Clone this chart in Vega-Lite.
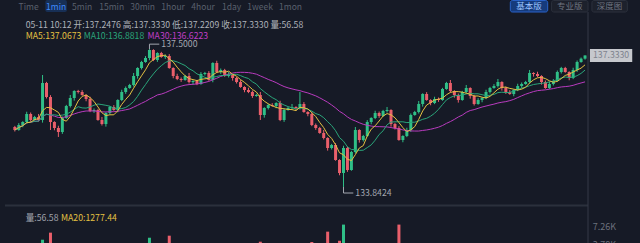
{
"$schema": "https://vega.github.io/schema/vega-lite/v6.json",
"width": 592, "height": 243,
"autosize": {"type": "none"},
"padding": {"left": 0, "top": 0, "right": 48, "bottom": 0},
"background": "#161a26",
"config": {"view": {"stroke": null}, "axisX": {"disable": true}, "text": {"font": "Noto Sans CJK SC", "baseline": "middle", "fontSize": 8.7}},
"datasets": {"k": [
{"i":0,"o":135.4340,"h":135.4640,"l":135.3147,"c":135.3547,"v":1320},
{"i":1,"o":135.3547,"h":135.5374,"l":135.3347,"c":135.4874,"v":860},
{"i":2,"o":135.4874,"h":135.5870,"l":135.4274,"c":135.5670,"v":1540},
{"i":3,"o":135.5670,"h":135.8393,"l":135.5370,"c":135.7793,"v":2210},
{"i":4,"o":135.7793,"h":135.8193,"l":135.5701,"c":135.6201,"v":980},
{"i":5,"o":135.6201,"h":135.7297,"l":135.6001,"c":135.6997,"v":1150},
{"i":6,"o":135.6997,"h":135.7797,"l":135.5801,"c":135.6201,"v":760},
{"i":7,"o":135.6201,"h":136.8140,"l":135.5501,"c":136.6017,"v":4830},
{"i":8,"o":136.6017,"h":136.6317,"l":136.1903,"c":136.2303,"v":2650},
{"i":9,"o":136.2303,"h":136.2803,"l":135.3547,"c":135.5670,"v":6180},
{"i":10,"o":135.5670,"h":135.5870,"l":135.3478,"c":135.4078,"v":1890},
{"i":11,"o":135.4078,"h":135.4678,"l":135.1700,"c":135.3017,"v":2340},
{"i":12,"o":135.3017,"h":135.7131,"l":135.2517,"c":135.6731,"v":1760},
{"i":13,"o":135.6731,"h":136.0215,"l":135.6531,"c":135.9915,"v":1420},
{"i":14,"o":135.9915,"h":136.2838,"l":135.9515,"c":136.2038,"v":1980},
{"i":15,"o":136.2038,"h":136.4095,"l":136.1338,"c":136.3895,"v":1230},
{"i":16,"o":136.3895,"h":136.4195,"l":136.3230,"c":136.3630,"v":640},
{"i":17,"o":136.3630,"h":136.4130,"l":136.2634,"c":136.2834,"v":890},
{"i":18,"o":136.2834,"h":136.3034,"l":136.1172,"c":136.1772,"v":1120},
{"i":19,"o":136.1772,"h":136.2372,"l":135.8288,"c":135.8588,"v":2050},
{"i":20,"o":135.8588,"h":135.9254,"l":135.8088,"c":135.8854,"v":720},
{"i":21,"o":135.8854,"h":135.9154,"l":135.6001,"c":135.6201,"v":1680},
{"i":22,"o":135.6201,"h":135.7001,"l":135.4739,"c":135.5139,"v":1340},
{"i":23,"o":135.5139,"h":135.8258,"l":135.4439,"c":135.8058,"v":1570},
{"i":24,"o":135.8058,"h":135.9950,"l":135.7658,"c":135.9650,"v":1080},
{"i":25,"o":135.9650,"h":136.0150,"l":135.8654,"c":135.8854,"v":690},
{"i":26,"o":135.8854,"h":136.1707,"l":135.8254,"c":136.1507,"v":1460},
{"i":27,"o":136.1507,"h":136.4230,"l":136.1207,"c":136.3630,"v":1830},
{"i":28,"o":136.3630,"h":136.5091,"l":136.3130,"c":136.4691,"v":1010},
{"i":29,"o":136.4691,"h":136.5787,"l":136.4491,"c":136.5487,"v":1250},
{"i":30,"o":136.5487,"h":136.8675,"l":136.5087,"c":136.7875,"v":2380},
{"i":31,"o":136.7875,"h":137.0197,"l":136.7175,"c":136.9997,"v":2760},
{"i":32,"o":136.9997,"h":137.1889,"l":136.9597,"c":137.1589,"v":1940},
{"i":33,"o":137.1589,"h":137.3150,"l":137.1389,"c":137.2650,"v":2210},
{"i":34,"o":137.2650,"h":137.5000,"l":137.2050,"c":137.4773,"v":5210},
{"i":35,"o":137.4773,"h":137.4973,"l":137.1820,"c":137.2120,"v":3120},
{"i":36,"o":137.2120,"h":137.4177,"l":137.1620,"c":137.3977,"v":2480},
{"i":37,"o":137.3977,"h":137.4277,"l":137.2716,"c":137.2916,"v":1350},
{"i":38,"o":137.2916,"h":137.3581,"l":137.2416,"c":137.3181,"v":980},
{"i":39,"o":137.3181,"h":137.3681,"l":136.9797,"c":136.9997,"v":5600},
{"i":40,"o":136.9997,"h":137.0197,"l":136.7275,"c":136.7875,"v":2890},
{"i":41,"o":136.7875,"h":136.8475,"l":136.6779,"c":136.7079,"v":1460},
{"i":42,"o":136.7079,"h":136.7479,"l":136.6313,"c":136.6813,"v":870},
{"i":43,"o":136.6813,"h":136.8175,"l":136.6613,"c":136.7875,"v":1030},
{"i":44,"o":136.7875,"h":136.8675,"l":136.5883,"c":136.6283,"v":1690},
{"i":45,"o":136.6283,"h":136.6748,"l":136.5583,"c":136.6548,"v":740},
{"i":46,"o":136.6548,"h":136.6848,"l":136.5452,"c":136.5752,"v":1120},
{"i":47,"o":136.5752,"h":136.8905,"l":136.5552,"c":136.8405,"v":2050},
{"i":48,"o":136.8405,"h":136.8971,"l":136.8005,"c":136.8671,"v":930},
{"i":49,"o":136.8671,"h":136.9171,"l":136.6613,"c":136.6813,"v":1480},
{"i":50,"o":136.6813,"h":137.1524,"l":136.6213,"c":137.1324,"v":2840},
{"i":51,"o":137.1324,"h":137.1924,"l":136.8636,"c":136.8936,"v":1920},
{"i":52,"o":136.8936,"h":136.9867,"l":136.8436,"c":136.9467,"v":860},
{"i":53,"o":136.9467,"h":136.9767,"l":136.7675,"c":136.7875,"v":1370},
{"i":54,"o":136.7875,"h":136.8940,"l":136.7475,"c":136.8140,"v":690},
{"i":55,"o":136.8140,"h":136.8340,"l":136.6644,"c":136.7344,"v":1010},
{"i":56,"o":136.7344,"h":136.7644,"l":136.5883,"c":136.6283,"v":1260},
{"i":57,"o":136.6283,"h":136.6783,"l":136.4756,"c":136.4956,"v":1580},
{"i":58,"o":136.4956,"h":136.5156,"l":136.3560,"c":136.4160,"v":1140},
{"i":59,"o":136.4160,"h":136.4760,"l":136.3330,"c":136.3630,"v":820},
{"i":60,"o":136.3630,"h":136.4030,"l":136.2068,"c":136.2568,"v":1350},
{"i":61,"o":136.2568,"h":136.3134,"l":136.2368,"c":136.2834,"v":760},
{"i":62,"o":136.2834,"h":136.3634,"l":135.6201,"c":135.7527,"v":4450},
{"i":63,"o":135.7527,"h":135.9584,"l":135.6827,"c":135.9384,"v":1830},
{"i":64,"o":135.9384,"h":136.0480,"l":135.8984,"c":136.0180,"v":1170},
{"i":65,"o":136.0180,"h":136.0680,"l":135.9715,"c":135.9915,"v":640},
{"i":66,"o":135.9915,"h":136.0911,"l":135.9315,"c":136.0711,"v":990},
{"i":67,"o":136.0711,"h":136.1311,"l":135.5901,"c":135.6201,"v":2960},
{"i":68,"o":135.6201,"h":135.9254,"l":135.5701,"c":135.8854,"v":1540},
{"i":69,"o":135.8854,"h":135.9684,"l":135.8654,"c":135.9384,"v":810},
{"i":70,"o":135.9384,"h":136.0450,"l":135.8984,"c":135.9650,"v":720},
{"i":71,"o":135.9650,"h":135.9850,"l":135.8684,"c":135.9384,"v":880},
{"i":72,"o":135.9384,"h":136.3630,"l":135.8984,"c":136.0446,"v":1640},
{"i":73,"o":136.0446,"h":136.0946,"l":135.8123,"c":135.8323,"v":1290},
{"i":74,"o":135.8323,"h":135.8523,"l":135.7193,"c":135.7793,"v":1110},
{"i":75,"o":135.7793,"h":135.8393,"l":135.4574,"c":135.4874,"v":4400},
{"i":76,"o":135.4874,"h":135.5274,"l":135.3578,"c":135.4078,"v":1960},
{"i":77,"o":135.4078,"h":135.4378,"l":135.2551,"c":135.2751,"v":2230},
{"i":78,"o":135.2751,"h":135.3551,"l":135.1025,"c":135.1425,"v":2540},
{"i":79,"o":135.1425,"h":135.1625,"l":134.8072,"c":134.8772,"v":6370},
{"i":80,"o":134.8772,"h":134.9868,"l":134.8372,"c":134.9568,"v":2180},
{"i":81,"o":134.9568,"h":135.0068,"l":134.5388,"c":134.5588,"v":3460},
{"i":82,"o":134.5588,"h":134.5788,"l":134.1539,"c":134.2139,"v":4630},
{"i":83,"o":134.2139,"h":134.9372,"l":133.8424,"c":134.8772,"v":7720},
{"i":84,"o":134.8772,"h":134.9172,"l":134.2435,"c":134.2935,"v":3870},
{"i":85,"o":134.2935,"h":134.8010,"l":134.2735,"c":134.7710,"v":2920},
{"i":86,"o":134.7710,"h":135.4347,"l":134.7310,"c":135.3547,"v":3350},
{"i":87,"o":135.3547,"h":135.3747,"l":135.0194,"c":135.0894,"v":1980},
{"i":88,"o":135.0894,"h":135.2255,"l":135.0494,"c":135.1955,"v":1430},
{"i":89,"o":135.1955,"h":135.6170,"l":135.1755,"c":135.5670,"v":2270},
{"i":90,"o":135.5670,"h":135.6931,"l":135.5070,"c":135.6731,"v":1560},
{"i":91,"o":135.6731,"h":135.8658,"l":135.6431,"c":135.8058,"v":1680},
{"i":92,"o":135.8058,"h":135.8458,"l":135.6762,"c":135.7262,"v":940},
{"i":93,"o":135.7262,"h":135.8888,"l":135.7062,"c":135.8588,"v":1210},
{"i":94,"o":135.8588,"h":135.9654,"l":135.8188,"c":135.8854,"v":860},
{"i":95,"o":135.8854,"h":135.9054,"l":135.4439,"c":135.5139,"v":2430},
{"i":96,"o":135.5139,"h":135.5439,"l":135.3678,"c":135.4078,"v":1780},
{"i":97,"o":135.4078,"h":135.4578,"l":135.0694,"c":135.0894,"v":7720},
{"i":98,"o":135.0894,"h":135.2155,"l":135.0294,"c":135.1955,"v":2640},
{"i":99,"o":135.1955,"h":135.4147,"l":135.1655,"c":135.3547,"v":1850},
{"i":100,"o":135.3547,"h":135.7927,"l":135.3047,"c":135.7527,"v":2990},
{"i":101,"o":135.7527,"h":135.8623,"l":135.7327,"c":135.8323,"v":1320},
{"i":102,"o":135.8323,"h":136.1246,"l":135.7923,"c":136.0446,"v":2060},
{"i":103,"o":136.0446,"h":136.3299,"l":135.9746,"c":136.3099,"v":2470},
{"i":104,"o":136.3099,"h":136.3599,"l":136.1307,"c":136.1507,"v":1150},
{"i":105,"o":136.1507,"h":136.1707,"l":136.0111,"c":136.0711,"v":930},
{"i":106,"o":136.0711,"h":136.2372,"l":136.0411,"c":136.1772,"v":870},
{"i":107,"o":136.1772,"h":136.2172,"l":136.1007,"c":136.1507,"v":640},
{"i":108,"o":136.1507,"h":136.4726,"l":136.1307,"c":136.4426,"v":1910},
{"i":109,"o":136.4426,"h":136.6317,"l":136.4226,"c":136.6017,"v":1720},
{"i":110,"o":136.6017,"h":136.6817,"l":136.3495,"c":136.3895,"v":1380},
{"i":111,"o":136.3895,"h":136.4095,"l":136.2134,"c":136.2834,"v":890},
{"i":112,"o":136.2834,"h":136.3234,"l":136.0807,"c":136.1507,"v":1240},
{"i":113,"o":136.1507,"h":136.3930,"l":136.1307,"c":136.3630,"v":1060},
{"i":114,"o":136.3630,"h":136.5491,"l":136.3230,"c":136.4691,"v":1350},
{"i":115,"o":136.4691,"h":136.4891,"l":136.1868,"c":136.2568,"v":1140},
{"i":116,"o":136.2568,"h":136.2868,"l":136.0046,"c":136.0446,"v":1490},
{"i":117,"o":136.0446,"h":136.2007,"l":136.0246,"c":136.1507,"v":780},
{"i":118,"o":136.1507,"h":136.2238,"l":136.0907,"c":136.2038,"v":690},
{"i":119,"o":136.2038,"h":136.4230,"l":136.1738,"c":136.3630,"v":1160},
{"i":120,"o":136.3630,"h":136.4991,"l":136.3230,"c":136.4691,"v":1030},
{"i":121,"o":136.4691,"h":136.5721,"l":136.4491,"c":136.5221,"v":820},
{"i":122,"o":136.5221,"h":136.7083,"l":136.4821,"c":136.6283,"v":1270},
{"i":123,"o":136.6283,"h":136.6483,"l":136.3991,"c":136.4691,"v":1180},
{"i":124,"o":136.4691,"h":136.5091,"l":136.3130,"c":136.3630,"v":930},
{"i":125,"o":136.3630,"h":136.4130,"l":136.2899,"c":136.3099,"v":710},
{"i":126,"o":136.3099,"h":136.4360,"l":136.2499,"c":136.4160,"v":860},
{"i":127,"o":136.4160,"h":136.5821,"l":136.3860,"c":136.5221,"v":1040},
{"i":128,"o":136.5221,"h":136.6152,"l":136.4721,"c":136.5752,"v":960},
{"i":129,"o":136.5752,"h":136.6583,"l":136.5552,"c":136.6283,"v":880},
{"i":130,"o":136.6283,"h":136.9471,"l":136.5883,"c":136.8671,"v":1830},
{"i":131,"o":136.8671,"h":136.8871,"l":136.7705,"c":136.8405,"v":1090},
{"i":132,"o":136.8405,"h":136.9005,"l":136.7575,"c":136.7875,"v":940},
{"i":133,"o":136.7875,"h":136.8075,"l":136.5583,"c":136.6283,"v":1310},
{"i":134,"o":136.6283,"h":136.6683,"l":136.4491,"c":136.4691,"v":1480},
{"i":135,"o":136.4691,"h":136.6352,"l":136.4391,"c":136.5752,"v":870},
{"i":136,"o":136.5752,"h":136.7048,"l":136.5352,"c":136.6548,"v":760},
{"i":137,"o":136.6548,"h":136.9336,"l":136.6348,"c":136.8936,"v":1420},
{"i":138,"o":136.8936,"h":137.0297,"l":136.8536,"c":136.9997,"v":1190},
{"i":139,"o":136.9997,"h":137.0297,"l":136.8736,"c":136.8936,"v":970},
{"i":140,"o":136.8936,"h":136.9136,"l":136.6744,"c":136.7344,"v":1230},
{"i":141,"o":136.7344,"h":137.0067,"l":136.7044,"c":136.9467,"v":1060},
{"i":142,"o":136.9467,"h":137.1989,"l":136.8967,"c":137.1589,"v":1550},
{"i":143,"o":137.1589,"h":137.2776,"l":137.1389,"c":137.2476,"v":1380},
{"i":144,"o":137.2476,"h":137.3330,"l":137.2209,"c":137.3330,"v":56.58}
]},
"layer": [
{"layer": [
 {"data": {"name": "k"}, "mark": {"type": "rule", "strokeWidth": 1},
  "encoding": {
   "x": {"field": "i", "type": "quantitative", "scale": {"domain": [-2.4828, 144.4966], "nice": false, "zero": false}, "axis": null},
   "y": {"field": "l", "type": "quantitative", "scale": {"domain": [132.3566, 138.8039], "nice": false, "zero": false},
     "axis": {"orient": "right", "values": [133.8424, 135.0801, 136.2993, 137.5185], "format": ".4f", "title": null, "domain": false, "ticks": false, "grid": false, "labelColor": "#6c717d", "labelFontSize": 9, "labelFont": "Noto Sans CJK SC", "labelPadding": 4}},
   "y2": {"field": "h"},
   "color": {"condition": {"test": "datum.c >= datum.o", "value": "#2fbf87"}, "value": "#ea5f6b"}}},
 {"data": {"name": "k"}, "mark": {"type": "bar", "width": 3},
  "encoding": {
   "x": {"field": "i", "type": "quantitative", "axis": null},
   "y": {"field": "o", "type": "quantitative", "axis": null},
   "y2": {"field": "c"},
   "color": {"condition": {"test": "datum.c >= datum.o", "value": "#2fbf87"}, "value": "#ea5f6b"}}},
 {"data": {"name": "k"}, "transform": [{"window": [{"op": "mean", "field": "c", "as": "ma30"}], "frame": [-29, 0], "sort": [{"field": "i"}]}],
  "mark": {"type": "line", "strokeWidth": 1, "color": "#b93bbf"},
  "encoding": {"x": {"field": "i", "type": "quantitative", "axis": null}, "y": {"field": "ma30", "type": "quantitative", "axis": null}}},
 {"data": {"name": "k"}, "transform": [{"window": [{"op": "mean", "field": "c", "as": "ma10"}], "frame": [-9, 0], "sort": [{"field": "i"}]}],
  "mark": {"type": "line", "strokeWidth": 1, "color": "#2aa57a"},
  "encoding": {"x": {"field": "i", "type": "quantitative", "axis": null}, "y": {"field": "ma10", "type": "quantitative", "axis": null}}},
 {"data": {"name": "k"}, "transform": [{"window": [{"op": "mean", "field": "c", "as": "ma5"}], "frame": [-4, 0], "sort": [{"field": "i"}]}],
  "mark": {"type": "line", "strokeWidth": 1, "color": "#e4c142"},
  "encoding": {"x": {"field": "i", "type": "quantitative", "axis": null}, "y": {"field": "ma5", "type": "quantitative", "axis": null}}},
 {"data": {"values": [{}]}, "mark": {"type": "rule", "stroke": "#2b303c", "strokeWidth": 2},
  "encoding": {"x": {"datum": -2.4828, "type": "quantitative"}, "x2": {"datum": 144.75}, "y": {"datum": 133.3516, "type": "quantitative", "axis": null}}},
 {"data": {"values": [{}]}, "mark": {"type": "rule", "stroke": "#343947", "strokeWidth": 1},
  "encoding": {"x": {"datum": 144.75, "type": "quantitative"}, "y": {"datum": 138.4855, "type": "quantitative", "axis": null}, "y2": {"datum": 132.3566}}},
 {"data": {"values": [{}]}, "mark": {"type": "rect", "fill": "#172f55", "cornerRadius": 2},
  "encoding": {"x": {"datum": 7.697, "type": "quantitative"}, "x2": {"datum": 13.159}, "y": {"datum": 138.8039, "type": "quantitative", "axis": null}, "y2": {"datum": 138.4855}}},
 {"data": {"values": [{}]}, "mark": {"type": "text", "text": "Time", "color": "#5a606d", "fontSize": 8.5},
  "encoding": {"x": {"datum": 3.476, "type": "quantitative"}, "y": {"datum": 138.6314, "type": "quantitative", "axis": null}}},
 {"data": {"values": [{}]}, "mark": {"type": "text", "text": "1min", "color": "#3f8cff", "fontSize": 8.5},
  "encoding": {"x": {"datum": 10.428, "type": "quantitative"}, "y": {"datum": 138.6314, "type": "quantitative", "axis": null}}},
 {"data": {"values": [{}]}, "mark": {"type": "text", "text": "5min", "color": "#5a606d", "fontSize": 8.5},
  "encoding": {"x": {"datum": 17.007, "type": "quantitative"}, "y": {"datum": 138.6314, "type": "quantitative", "axis": null}}},
 {"data": {"values": [{}]}, "mark": {"type": "text", "text": "15min", "color": "#5a606d", "fontSize": 8.5},
  "encoding": {"x": {"datum": 24.455, "type": "quantitative"}, "y": {"datum": 138.6314, "type": "quantitative", "axis": null}}},
 {"data": {"values": [{}]}, "mark": {"type": "text", "text": "30min", "color": "#5a606d", "fontSize": 8.5},
  "encoding": {"x": {"datum": 32.276, "type": "quantitative"}, "y": {"datum": 138.6314, "type": "quantitative", "axis": null}}},
 {"data": {"values": [{}]}, "mark": {"type": "text", "text": "1hour", "color": "#5a606d", "fontSize": 8.5},
  "encoding": {"x": {"datum": 39.972, "type": "quantitative"}, "y": {"datum": 138.6314, "type": "quantitative", "axis": null}}},
 {"data": {"values": [{}]}, "mark": {"type": "text", "text": "4hour", "color": "#5a606d", "fontSize": 8.5},
  "encoding": {"x": {"datum": 47.545, "type": "quantitative"}, "y": {"datum": 138.6314, "type": "quantitative", "axis": null}}},
 {"data": {"values": [{}]}, "mark": {"type": "text", "text": "1day", "color": "#5a606d", "fontSize": 8.5},
  "encoding": {"x": {"datum": 54.745, "type": "quantitative"}, "y": {"datum": 138.6314, "type": "quantitative", "axis": null}}},
 {"data": {"values": [{}]}, "mark": {"type": "text", "text": "1week", "color": "#5a606d", "fontSize": 8.5},
  "encoding": {"x": {"datum": 61.945, "type": "quantitative"}, "y": {"datum": 138.6314, "type": "quantitative", "axis": null}}},
 {"data": {"values": [{}]}, "mark": {"type": "text", "text": "1mon", "color": "#5a606d", "fontSize": 8.5},
  "encoding": {"x": {"datum": 69.641, "type": "quantitative"}, "y": {"datum": 138.6314, "type": "quantitative", "axis": null}}},
 {"data": {"values": [{}]}, "mark": {"type": "rect", "fill": "#163b7c", "stroke": "#2a63c9", "strokeWidth": 1, "cornerRadius": 2},
  "encoding": {"x": {"datum": 125.13, "type": "quantitative"}, "x2": {"datum": 134.57}, "y": {"datum": 138.79, "type": "quantitative", "axis": null}, "y2": {"datum": 138.4855}}},
 {"data": {"values": [{}]}, "mark": {"type": "rect", "fill": "#1d212c", "stroke": "#2c313d", "strokeWidth": 1, "cornerRadius": 2},
  "encoding": {"x": {"datum": 135.56, "type": "quantitative"}, "x2": {"datum": 144.75}, "y": {"datum": 138.79, "type": "quantitative", "axis": null}, "y2": {"datum": 138.4855}}},
 {"data": {"values": [{}]}, "mark": {"type": "rect", "fill": "#1d212c", "stroke": "#2c313d", "strokeWidth": 1, "cornerRadius": 2},
  "encoding": {"x": {"datum": 145.74, "type": "quantitative"}, "x2": {"datum": 154.68}, "y": {"datum": 138.79, "type": "quantitative", "axis": null}, "y2": {"datum": 138.4855}}},
 {"data": {"values": [{}]}, "mark": {"type": "text", "text": "基本版", "color": "#9cc3ff", "fontSize": 8.5},
  "encoding": {"x": {"datum": 129.85, "type": "quantitative"}, "y": {"datum": 138.6447, "type": "quantitative", "axis": null}}},
 {"data": {"values": [{}]}, "mark": {"type": "text", "text": "专业版", "color": "#6f7480", "fontSize": 8.5},
  "encoding": {"x": {"datum": 140.15, "type": "quantitative"}, "y": {"datum": 138.6447, "type": "quantitative", "axis": null}}},
 {"data": {"values": [{}]}, "mark": {"type": "text", "text": "深度图", "color": "#6f7480", "fontSize": 8.5},
  "encoding": {"x": {"datum": 150.21, "type": "quantitative"}, "y": {"datum": 138.6447, "type": "quantitative", "axis": null}}},
 {"data": {"values": [{}]}, "mark": {"type": "text", "text": "05-11 10:12 开:137.2476 高:137.3330 低:137.2209 收:137.3330 量:56.58", "color": "#aeb2ba", "align": "left"},
  "encoding": {"x": {"datum": 2.731, "type": "quantitative"}, "y": {"datum": 138.1406, "type": "quantitative", "axis": null}}},
 {"data": {"values": [{}]}, "mark": {"type": "text", "text": "MA5:137.0673", "color": "#e4c142", "align": "left"},
  "encoding": {"x": {"datum": 2.731, "type": "quantitative"}, "y": {"datum": 137.862, "type": "quantitative", "axis": null}}},
 {"data": {"values": [{}]}, "mark": {"type": "text", "text": "MA10:136.8818", "color": "#2aa57a", "align": "left"},
  "encoding": {"x": {"datum": 17.379, "type": "quantitative"}, "y": {"datum": 137.862, "type": "quantitative", "axis": null}}},
 {"data": {"values": [{}]}, "mark": {"type": "text", "text": "MA30:136.6223", "color": "#c13ec7", "align": "left"},
  "encoding": {"x": {"datum": 33.517, "type": "quantitative"}, "y": {"datum": 137.862, "type": "quantitative", "axis": null}}},
 {"data": {"values": [{}]}, "mark": {"type": "rule", "stroke": "#a3a7b0", "strokeWidth": 1},
  "encoding": {"x": {"datum": 34, "type": "quantitative"}, "y": {"datum": 137.5, "type": "quantitative", "axis": null}, "y2": {"datum": 137.6327}}},
 {"data": {"values": [{}]}, "mark": {"type": "rule", "stroke": "#a3a7b0", "strokeWidth": 1},
  "encoding": {"x": {"datum": 34, "type": "quantitative"}, "x2": {"datum": 36.48}, "y": {"datum": 137.6327, "type": "quantitative", "axis": null}}},
 {"data": {"values": [{}]}, "mark": {"type": "text", "text": "137.5000", "color": "#a3a7b0", "align": "left", "fontSize": 8.7},
  "encoding": {"x": {"datum": 37.0, "type": "quantitative"}, "y": {"datum": 137.6327, "type": "quantitative", "axis": null}}},
 {"data": {"values": [{}]}, "mark": {"type": "rule", "stroke": "#a3a7b0", "strokeWidth": 1},
  "encoding": {"x": {"datum": 83, "type": "quantitative"}, "y": {"datum": 133.8424, "type": "quantitative", "axis": null}, "y2": {"datum": 133.6832}}},
 {"data": {"values": [{}]}, "mark": {"type": "rule", "stroke": "#a3a7b0", "strokeWidth": 1},
  "encoding": {"x": {"datum": 83, "type": "quantitative"}, "x2": {"datum": 85.48}, "y": {"datum": 133.6832, "type": "quantitative", "axis": null}}},
 {"data": {"values": [{}]}, "mark": {"type": "text", "text": "133.8424", "color": "#a3a7b0", "align": "left", "fontSize": 8.7},
  "encoding": {"x": {"datum": 86.0, "type": "quantitative"}, "y": {"datum": 133.6832, "type": "quantitative", "axis": null}}},
 {"data": {"values": [{}]}, "mark": {"type": "rect", "fill": "#c6c8cd"},
  "encoding": {"x": {"datum": 145.24, "type": "quantitative"}, "x2": {"datum": 155.92}, "y": {"datum": 137.5039, "type": "quantitative", "axis": null}, "y2": {"datum": 137.159}}},
 {"data": {"values": [{}]}, "mark": {"type": "text", "text": "137.3330", "color": "#7f838d", "fontSize": 8.7},
  "encoding": {"x": {"datum": 150.58, "type": "quantitative"}, "y": {"datum": 137.333, "type": "quantitative", "axis": null}}},
 {"data": {"values": [{}]}, "mark": {"type": "text", "text": "量:56.58", "color": "#a0a4ad", "align": "left"},
  "encoding": {"x": {"datum": 2.731, "type": "quantitative"}, "y": {"datum": 133.0199, "type": "quantitative", "axis": null}}},
 {"data": {"values": [{}]}, "mark": {"type": "text", "text": "MA20:1277.44", "color": "#e4c142", "align": "left"},
  "encoding": {"x": {"datum": 11.669, "type": "quantitative"}, "y": {"datum": 133.0199, "type": "quantitative", "axis": null}}}
]},
{"layer": [
 {"data": {"name": "k"}, "mark": {"type": "bar", "width": 3},
  "encoding": {
   "x": {"field": "i", "type": "quantitative", "axis": null},
   "y": {"field": "v", "type": "quantitative", "scale": {"domain": [0, 7260], "range": [265, 227], "nice": false, "zero": false}, "axis": null},
   "y2": {"datum": 0},
   "color": {"condition": {"test": "datum.c >= datum.o", "value": "#2fbf87"}, "value": "#ea5f6b"}}},
 {"data": {"values": [{}]}, "mark": {"type": "text", "text": "7.26K", "color": "#6c717d", "align": "left", "fontSize": 9},
  "encoding": {"x": {"datum": 145.98, "type": "quantitative"}, "y": {"datum": 7260, "type": "quantitative", "axis": null}}},
 {"data": {"values": [{}]}, "mark": {"type": "text", "text": "3.78K", "color": "#6c717d", "align": "left", "fontSize": 9},
  "encoding": {"x": {"datum": 145.98, "type": "quantitative"}, "y": {"datum": 3780, "type": "quantitative", "axis": null}}}
]}
],
"resolve": {"scale": {"y": "independent"}}
}
